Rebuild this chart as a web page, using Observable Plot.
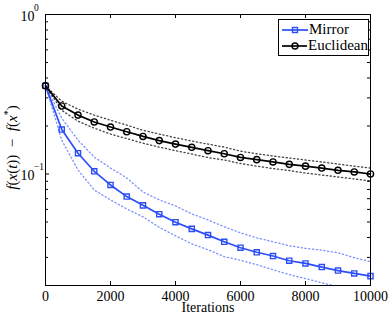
<!DOCTYPE html>
<html>
<head>
<meta charset="utf-8">
<script src="https://cdn.jsdelivr.net/npm/d3@7"></script>
<script src="https://cdn.jsdelivr.net/npm/@observablehq/plot@0.6"></script>
<style>
  html, body { margin: 0; padding: 0; background: #fff; }
  #wrap { position: relative; width: 390px; height: 318px; font-family: "Liberation Serif", "Times New Roman", "DejaVu Serif", serif; }
  #wrap svg text { font-family: "Liberation Serif", "Times New Roman", "DejaVu Serif", serif; }
  #legend { position: absolute; left: 278px; top: 19px; width: 89px; height: 33.5px; padding-top: 1.5px; border: 1px solid #000; background: #fff; font-size: 15px; }
  #legend .row { display: flex; align-items: center; height: 16px; }
  #legend svg { display: block; margin-left: 3px; margin-right: 1px; }
</style>
</head>
<body>
<div id="wrap"></div>
<script>
// ---- data ----
const iterations = [0,500,1000,1500,2000,2500,3000,3500,4000,4500,5000,5500,6000,6500,7000,7500,8000,8500,9000,9500,10000];
const euclidean      = [0.357,0.267,0.234,0.212,0.197,0.184,0.172,0.162,0.154,0.147,0.140,0.134,0.127,0.123,0.119,0.115,0.112,0.109,0.1055,0.103,0.100];
const euclideanUpper = [0.357,0.286,0.255,0.234,0.2175,0.2024,0.188,0.178,0.169,0.161,0.154,0.1475,0.139,0.134,0.1296,0.126,0.1224,0.119,0.1155,0.112,0.109];
const euclideanLower = [0.357,0.251,0.2145,0.194,0.178,0.1667,0.156,0.1475,0.140,0.1334,0.1268,0.1224,0.1164,0.112,0.1082,0.1052,0.1014,0.0986,0.0958,0.0931,0.0905];
const mirror      = [0.357,0.190,0.135,0.104,0.0854,0.0722,0.0636,0.0560,0.0499,0.0453,0.0414,0.0376,0.0345,0.0323,0.0306,0.0286,0.0275,0.0261,0.0248,0.0238,0.0229];
const mirrorUpper = [0.357,0.224,0.163,0.1277,0.109,0.0944,0.0772,0.0688,0.0631,0.0562,0.0516,0.0467,0.0428,0.0398,0.0376,0.0355,0.0342,0.0333,0.0321,0.0299,0.0282];
const mirrorLower = [0.357,0.163,0.106,0.0794,0.0688,0.0604,0.0539,0.0463,0.0410,0.0365,0.0335,0.0303,0.0288,0.0270,0.0251,0.0234,0.0221,0.0208,0.0197,0.0188,0.0180];
const seriesNames = ["Mirror", "Euclidean"];
const xTicks = [0,2000,4000,6000,8000,10000];
const yMajor = [1, 0.1];
const yExponents = ["0", "\u22121"];
const yMinor = [0.02,0.03,0.04,0.05,0.06,0.07,0.08,0.09,0.2,0.3,0.4,0.5,0.6,0.7,0.8,0.9];
const xLabel = "Iterations";

// ---- layout/style ----
const FONT = "'Liberation Serif', 'Times New Roman', 'DejaVu Serif', serif";
const W = 390, H = 318, mL = 45, mR = 20, mT = 14, mB = 33;
const fw = W - mL - mR, fh = H - mT - mB;
const BLUE = "#2c4ef6";
const BLUE_DOT = "#7d90ff";

const rows = (ys) => iterations.map((x, i) => ({x, y: ys[i]}));
const eRows = rows(euclidean), eU = rows(euclideanUpper), eL = rows(euclideanLower);
const mRows = rows(mirror), mU = rows(mirrorUpper), mLo = rows(mirrorLower);

const dotted = {x: "x", y: "y", strokeWidth: 1.3, strokeDasharray: "1.2,2.6", clip: true};
const txt = {fontFamily: FONT, fill: "#000", lineAnchor: "middle"};

const chart = Plot.plot({
  width: W, height: H,
  marginLeft: mL, marginRight: mR, marginTop: mT, marginBottom: mB,
  style: {fontFamily: FONT, fontSize: "14px", background: "#fff", color: "#000"},
  x: {domain: [0, 10000], axis: null},
  y: {type: "log", domain: [0.02, 1], axis: null},
  marks: [
    Plot.line(mU, {...dotted, stroke: BLUE_DOT}),
    Plot.line(mLo, {...dotted, stroke: BLUE_DOT}),
    Plot.line(eU, {...dotted, stroke: "#444"}),
    Plot.line(eL, {...dotted, stroke: "#444"}),
    Plot.line(mRows, {x: "x", y: "y", stroke: BLUE, strokeWidth: 1.7}),
    Plot.line(eRows, {x: "x", y: "y", stroke: "#000", strokeWidth: 1.7}),
    Plot.dot(mRows, {x: "x", y: "y", symbol: "square", r: 2.9, stroke: BLUE, strokeWidth: 1.4, fill: "none"}),
    Plot.dot(eRows, {x: "x", y: "y", symbol: "circle", r: 3.1, stroke: "#000", strokeWidth: 1.4, fill: "none"}),
    Plot.frame({stroke: "#000", strokeWidth: 1}),
    // inward ticks
    Plot.tickX(xTicks, {x: d => d, insetTop: fh - 4, stroke: "#000"}),
    Plot.tickX(xTicks, {x: d => d, insetBottom: fh - 4, stroke: "#000"}),
    Plot.tickY(yMajor, {y: d => d, insetRight: fw - 4, stroke: "#000"}),
    Plot.tickY(yMajor, {y: d => d, insetLeft: fw - 4, stroke: "#000"}),
    Plot.tickY(yMinor, {y: d => d, insetRight: fw - 3, stroke: "#000"}),
    Plot.tickY(yMinor, {y: d => d, insetLeft: fw - 3, stroke: "#000"}),
    // tick labels
    Plot.text(xTicks, {...txt, x: d => d, frameAnchor: "bottom", dy: 11, text: d => String(d), fontSize: 14}),
    Plot.text(yMajor, {...txt, y: d => d, frameAnchor: "left", dx: -25, dy: 2, textAnchor: "start", text: () => "10", fontSize: 14}),
    Plot.text(yMajor, {...txt, y: d => d, frameAnchor: "left", dx: -11.5, dy: -7, textAnchor: "start", text: (d, i) => yExponents[i], fontSize: 9.5}),
    Plot.text([xLabel], {...txt, frameAnchor: "bottom", dy: 22.5, text: d => d, fontSize: 14})
  ]
});

const wrap = document.getElementById("wrap");
wrap.appendChild(chart);

// y-axis label with math styling
const svg = d3.select(chart);
const lab = svg.append("text")
  .attr("transform", `translate(14,${mT + fh / 2 - 2}) rotate(-90)`)
  .attr("text-anchor", "middle")
  .attr("dominant-baseline", "middle")
  .attr("font-family", FONT)
  .attr("font-size", 15)
  .attr("fill", "#000");
const parts = [["f", true], ["(", false], ["x", true], ["(", false], ["t", true], ["))", false], ["\u2002\u2212\u2002", false], ["f", true], ["(", false], ["x", true]];
for (const [t, it] of parts) lab.append("tspan").attr("font-style", it ? "italic" : "normal").text(t);
lab.append("tspan").attr("font-size", 10).attr("dy", -5).text("*");
lab.append("tspan").attr("dy", 5).text(")");

// legend
const legend = document.createElement("div");
legend.id = "legend";
const colors = [BLUE, "#000"];
const symbols = ["square", "circle"];
seriesNames.forEach((name, i) => {
  const row = document.createElement("div");
  row.className = "row";
  const s = d3.create("svg").attr("width", 26).attr("height", 12);
  s.append("line").attr("x1", 0).attr("x2", 26).attr("y1", 6).attr("y2", 6).attr("stroke", colors[i]).attr("stroke-width", 1.7);
  if (symbols[i] === "square") s.append("rect").attr("x", 10.5).attr("y", 3.5).attr("width", 5).attr("height", 5).attr("fill", "none").attr("stroke", colors[i]).attr("stroke-width", 1.4);
  else s.append("circle").attr("cx", 13).attr("cy", 6).attr("r", 3).attr("fill", "none").attr("stroke", colors[i]).attr("stroke-width", 1.4);
  row.appendChild(s.node());
  const t = document.createElement("span");
  t.textContent = name;
  row.appendChild(t);
  legend.appendChild(row);
});
wrap.appendChild(legend);
</script>
</body>
</html>
